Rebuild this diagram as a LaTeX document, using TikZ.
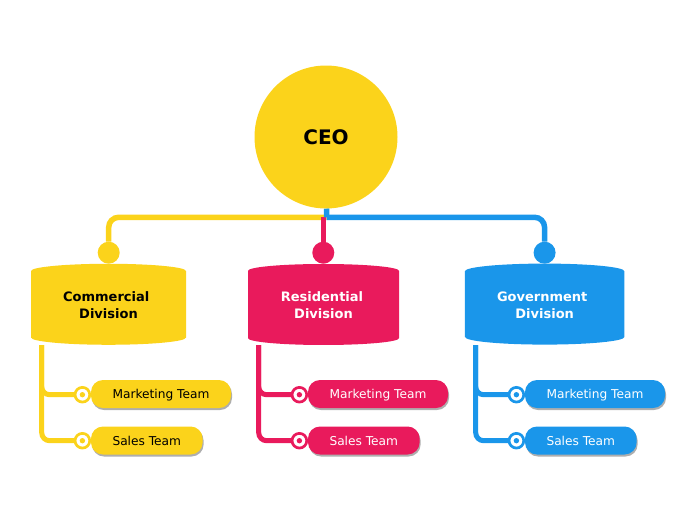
\documentclass[tikz,border=0pt]{standalone}
\usepackage{fontspec}
\setmainfont{DejaVu Sans}
\usetikzlibrary{shapes.geometric, shadows, backgrounds}
\definecolor{ceoyellow}{HTML}{FBD31B}
\definecolor{resred}{HTML}{E91A5C}
\definecolor{govblue}{HTML}{1A96EA}
\tikzset{ring/.style={circle, inner sep=0pt, outer sep=0pt, minimum size=14.7pt, line width=2.7pt, draw=#1, fill=white,
  path picture={\fill[#1] (path picture bounding box.center) circle (2.7pt);}}}

\begin{document}
\begin{tikzpicture}[x=1pt,y=-1pt]
  \tikzstyle{ceonode} = [circle, inner sep=0pt, outer sep=0pt, minimum size=143pt, fill=ceoyellow, font=\fontsize{20}{24}\selectfont\bfseries]
  \tikzstyle{division} = [cylinder, shape border rotate=90, shape aspect=.16, inner sep=0pt, outer sep=0pt, minimum height=81pt, align=center, text depth=5pt, font=\fontsize{13}{17}\selectfont\bfseries]
  \tikzstyle{knob} = [circle, inner sep=0pt, outer sep=0pt, minimum size=22pt]
  \tikzstyle{team} = [rectangle, rounded corners=12pt, inner sep=0pt, outer sep=0pt, minimum height=28pt, text height=9.5pt, text depth=0pt, font=\fontsize{12.2}{15}\selectfont, drop shadow={shadow xshift=1pt, shadow yshift=-2pt, opacity=.45, fill=black!70}]
  \tikzstyle{connector} = [line width=5.5pt, rounded corners=10pt]
  \tikzstyle{branch} = [line width=5pt, rounded corners=8pt]
  \useasboundingbox (0,0) rectangle (696,520);

  % CEO
  \node (ceo) at (326,137) [ceonode] {CEO};
  \coordinate (hub) at (326.7,217.3);

  % Division knobs
  \node (knobcom) at (108.7,252.7) [knob, fill=ceoyellow] {};
  \node (knobres) at (323.3,252.7) [knob, fill=resred] {};
  \node (knobgov) at (544.6,252.7) [knob, fill=govblue] {};

  % Divisions
  \node (com) at (108.5,308) [division, minimum width=155pt, fill=ceoyellow] {Commercial\hspace*{4.5pt}\\Division};
  \node (res) at (323.5,308) [division, minimum width=151pt, fill=resred, text=white] {Residential\hspace*{3pt}\\Division};
  \node (gov) at (544.7,308) [division, minimum width=159.5pt, fill=govblue, text=white] {Government\hspace*{5pt}\\Division};

  % Commercial teams
  \node (commkt) at (161,394) [team, minimum width=140pt, fill=ceoyellow] {Marketing Team};
  \node (comsal) at (146.8,440.5) [team, minimum width=111.6pt, fill=ceoyellow] {Sales Team};
  \node (commktring) at (82.4,394.7) [ring=ceoyellow] {};
  \node (comsalring) at (82.4,440.7) [ring=ceoyellow] {};
  \coordinate (comtrunk) at (41.7,345);

  % Residential teams
  \node (resmkt) at (378,394) [team, minimum width=140pt, fill=resred, text=white] {Marketing Team};
  \node (ressal) at (363.8,440.5) [team, minimum width=111.6pt, fill=resred, text=white] {Sales Team};
  \node (resmktring) at (299.4,394.7) [ring=resred] {};
  \node (ressalring) at (299.4,440.7) [ring=resred] {};
  \coordinate (restrunk) at (258.7,345);

  % Government teams
  \node (govmkt) at (595,394) [team, minimum width=140pt, fill=govblue, text=white] {Marketing Team};
  \node (govsal) at (580.8,440.5) [team, minimum width=111.6pt, fill=govblue, text=white] {Sales Team};
  \node (govmktring) at (516.4,394.7) [ring=govblue] {};
  \node (govsalring) at (516.4,440.7) [ring=govblue] {};
  \coordinate (govtrunk) at (475.7,345);

  % Connectors
  \begin{pgfonlayer}{background}
    \draw[connector, ceoyellow] (hub) -| (knobcom);
    \draw[connector, resred] (knobres |- hub) -- (knobres);
    \draw[connector, govblue] (hub) -| (knobgov);
    \draw[connector, govblue] (ceo) -- (hub);
    \draw[branch, ceoyellow] (comtrunk) |- (commktring);
    \draw[branch, ceoyellow] (comtrunk) |- (comsalring);
    \draw[branch, resred] (restrunk) |- (resmktring);
    \draw[branch, resred] (restrunk) |- (ressalring);
    \draw[branch, govblue] (govtrunk) |- (govmktring);
    \draw[branch, govblue] (govtrunk) |- (govsalring);
  \end{pgfonlayer}
\end{tikzpicture}
\end{document}
